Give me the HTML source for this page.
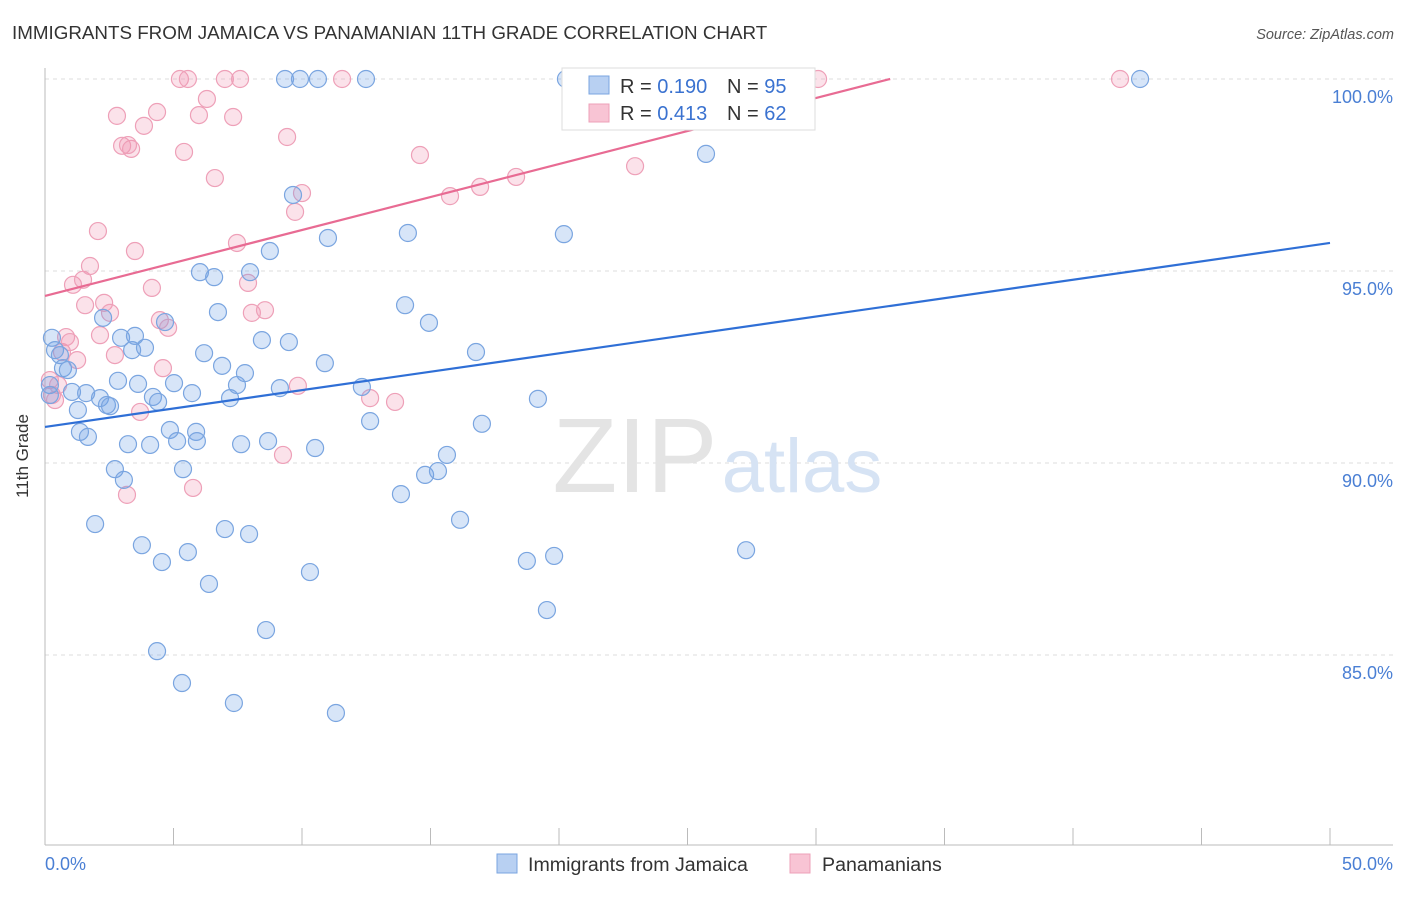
<!DOCTYPE html>
<html><head><meta charset="utf-8">
<style>
body{margin:0;background:#fff;font-family:"Liberation Sans",sans-serif;}
svg text{font-family:"Liberation Sans",sans-serif;}
</style></head>
<body>
<svg width="1406" height="892" viewBox="0 0 1406 892" xmlns="http://www.w3.org/2000/svg">
<text x="12" y="39" font-size="18.8" fill="#333">IMMIGRANTS FROM JAMAICA VS PANAMANIAN 11TH GRADE CORRELATION CHART</text>
<text x="1394" y="39" font-size="14.5" fill="#555" text-anchor="end" font-style="italic">Source: ZipAtlas.com</text>
<g id="grid"></g>
<g>
<text x="635" y="492" font-size="106" fill="#e4e4e4" text-anchor="middle" font-family="Liberation Serif">ZIP</text>
<text x="802" y="492" font-size="76" fill="#d6e3f4" text-anchor="middle">atlas</text>
</g>
<g id="axes"></g>
<g id="points"></g>
<g id="lines"></g>
<text x="28" y="456" font-size="17" fill="#333" text-anchor="middle" transform="rotate(-90 28 456)">11th Grade</text>
<g>
<rect x="562" y="68" width="253" height="62" fill="#fff" stroke="#ddd"/>
<rect x="589" y="76" width="20" height="18" fill="#b8d0f2" stroke="#7aa5e0"/>
<rect x="589" y="104" width="20" height="18" fill="#f8c4d4" stroke="#eea0b8"/>
<text x="620" y="93" font-size="20" fill="#333">R = <tspan fill="#3a72d0">0.190</tspan></text>
<text x="727" y="93" font-size="20" fill="#333">N = <tspan fill="#3a72d0">95</tspan></text>
<text x="620" y="120" font-size="20" fill="#333">R = <tspan fill="#3a72d0">0.413</tspan></text>
<text x="727" y="120" font-size="20" fill="#333">N = <tspan fill="#3a72d0">62</tspan></text>
</g>
<g>
<rect x="497" y="854" width="20" height="19" fill="#b8d0f2" stroke="#7aa5e0"/>
<text x="528" y="871" font-size="19.6" fill="#333">Immigrants from Jamaica</text>
<rect x="790" y="854" width="20" height="19" fill="#f8c4d4" stroke="#eea0b8"/>
<text x="822" y="871" font-size="19.6" fill="#333">Panamanians</text>
</g>
</svg>
<script>
const yTicks=[85,90,95,100];
const yTickLabels=["85.0%","90.0%","95.0%","100.0%"];
const xTicks=[0,5,10,15,20,25,30,35,40,45,50];
const blueX=[.27,.39,.58,.70,.89,.19,.19,1.05,1.28,1.36,1.67,1.60,1.95,2.14,2.26,2.41,2.53,2.72,2.84,2.96,3.07,3.23,3.39,3.50,3.62,3.77,3.89,4.09,4.20,4.36,4.40,4.55,4.67,4.86,5.02,5.14,5.33,5.37,5.56,5.72,5.88,5.91,6.03,6.19,6.38,6.58,6.73,6.89,7.00,7.20,7.35,7.47,7.63,7.78,7.94,7.98,8.44,8.60,8.68,8.75,9.14,9.49,9.65,10.31,10.51,10.89,11.01,11.32,12.33,12.65,13.85,14.01,14.12,14.79,14.94,15.29,15.64,16.15,16.77,17.00,18.75,19.18,19.53,19.81,20.19,25.72,27.28,9.34,9.92,10.62,12.49,20.27,42.61];
const blueY=[93.26,92.94,92.81,92.47,92.42,92.03,91.77,91.85,91.38,90.81,90.68,91.82,88.41,91.69,93.78,91.51,91.48,89.84,92.14,93.26,89.56,90.49,92.94,93.31,92.06,87.86,93.0,90.47,91.72,85.10,91.59,87.42,93.67,90.86,92.08,90.57,84.27,89.84,87.68,91.82,90.81,90.57,94.97,92.86,86.85,94.84,93.93,92.53,88.28,91.69,83.75,92.03,90.49,92.34,88.15,94.97,93.20,85.65,90.57,95.52,91.95,93.15,96.98,87.16,90.39,92.60,95.86,83.49,91.98,91.09,89.19,94.11,95.99,89.69,93.65,89.79,90.21,88.52,92.89,91.02,87.45,91.67,86.17,87.58,95.96,98.05,87.73,100,100,100,100,100,100];
const pinkX=[.19,.27,.39,.51,.66,.82,.97,1.09,1.25,1.48,1.56,1.75,2.06,2.14,2.30,2.53,2.72,2.80,3.00,3.19,3.35,3.50,3.70,3.85,4.16,4.36,4.47,4.59,4.79,5.41,5.76,5.99,6.30,6.61,7.00,7.32,7.47,7.90,8.05,8.56,9.26,9.42,9.73,9.84,10.00,11.56,12.65,13.62,14.59,15.76,16.93,18.33,22.96,23.15,30.08,41.83,5.25,5.56,7.59,3.23];
const pinkY=[92.16,91.77,91.64,92.03,92.89,93.28,93.15,94.64,92.68,94.77,94.11,95.13,96.04,93.33,94.17,93.91,92.81,99.04,98.26,89.17,98.18,95.52,91.33,98.78,94.56,99.14,93.72,92.47,93.52,98.10,89.35,99.06,99.48,97.42,100,99.01,95.73,94.69,93.91,93.98,90.21,98.49,96.54,92.01,97.03,100,91.69,91.59,98.02,96.95,97.19,97.45,97.73,100,100,100,100,100,100,98.28];
const blueTrend=[90.94,95.73];
const pinkTrend=[94.35,102.94];
const NS="http://www.w3.org/2000/svg";
const X0=45,X1=1330,Ytop=79;
function sx(v){return X0+(v/50)*(X1-X0);}
function sy(v){return Ytop+(100-v)*38.4;}
function mk(tag,attrs,parent){const e=document.createElementNS(NS,tag);for(const k in attrs)e.setAttribute(k,attrs[k]);parent.appendChild(e);return e;}
const grid=document.getElementById('grid'),axes=document.getElementById('axes'),pts=document.getElementById('points'),lines=document.getElementById('lines');
yTicks.forEach((t,i)=>{
 const l=mk('line',{x1:X0,x2:1393,y1:sy(t),y2:sy(t),stroke:'#ddd','stroke-dasharray':'4,4'},grid);
 
 
 const tx=mk('text',{x:1393,y:sy(t)+24,'font-size':18,fill:'#4a7fd4','text-anchor':'end'},axes);
 tx.textContent=yTickLabels[i];
 
 
});
const ya=mk('line',{x1:X0,x2:X0,y1:68,y2:845,stroke:'#bbb'},axes);


const xa=mk('line',{x1:X0,x2:1393,y1:845,y2:845,stroke:'#bbb'},axes);


xTicks.forEach(t=>{
 const l=mk('line',{x1:sx(t),x2:sx(t),y1:828,y2:845,stroke:'#bbb'},axes);
 
 
});
const xl0=mk('text',{x:X0,y:870,'font-size':18,fill:'#4a7fd4'},axes);xl0.textContent='0.0%';


const xl1=mk('text',{x:1393,y:870,'font-size':18,fill:'#4a7fd4','text-anchor':'end'},axes);xl1.textContent='50.0%';


pinkX.forEach((x,i)=>{
 const c=mk('circle',{cx:sx(x),cy:sy(pinkY[i]),r:8.5,fill:'rgba(242,150,180,0.28)',stroke:'#eea0b8','stroke-width':1.2},pts);
 
 
});
blueX.forEach((x,i)=>{
 const c=mk('circle',{cx:sx(x),cy:sy(blueY[i]),r:8.5,fill:'rgba(110,160,230,0.28)',stroke:'#7aa5e0','stroke-width':1.2},pts);
 
 
});
const bl=mk('line',{x1:sx(0),y1:sy(blueTrend[0]),x2:sx(50),y2:sy(blueTrend[1]),stroke:'#2f6fd6','stroke-width':2.2},lines);


const pslope=(pinkTrend[1]-pinkTrend[0])/50;
const pxEnd=Math.min(50,(100-pinkTrend[0])/pslope);
const pl=mk('line',{x1:sx(0),y1:sy(pinkTrend[0]),x2:sx(pxEnd),y2:sy(pinkTrend[0]+pslope*pxEnd),stroke:'#e86b93','stroke-width':2.2},lines);


</script>
</body></html>
